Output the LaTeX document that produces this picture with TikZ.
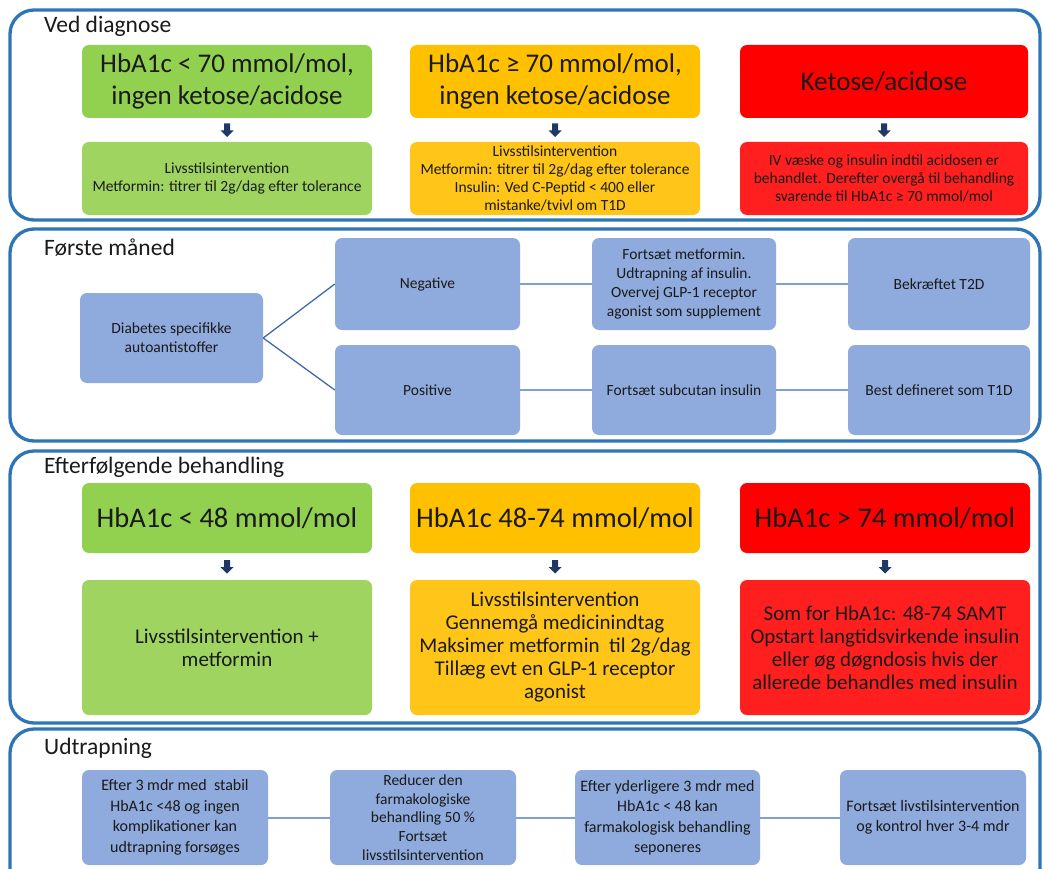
\documentclass[tikz,border=0pt]{standalone}
\usepackage{fontspec}
\setmainfont{Carlito}
\usetikzlibrary{calc}
\definecolor{frameblue}{HTML}{2E75B6}
\definecolor{gtop}{HTML}{92D050}
\definecolor{gbot}{HTML}{9FD461}
\definecolor{otop}{HTML}{FFC000}
\definecolor{obot}{HTML}{FFC519}
\definecolor{rtop}{HTML}{FF0000}
\definecolor{rbot}{HTML}{FF1F1F}
\definecolor{lblue}{HTML}{8FAADC}
\definecolor{lline}{HTML}{7F9FD6}
\definecolor{dline}{HTML}{4268B0}
\definecolor{navy}{HTML}{1F3864}
\definecolor{txt}{HTML}{1A1A1A}
\newcommand\fHead{\fontsize{23.5}{27}\selectfont}
\newcommand\fBigA{\fontsize{27}{32}\selectfont}
\newcommand\fBigB{\fontsize{28.5}{33}\selectfont}
\newcommand\fSmall{\fontsize{15.5}{18}\selectfont}
\newcommand\fSmallB{\fontsize{15.5}{18.7}\selectfont}
\newcommand\fMid{\fontsize{21}{23}\selectfont}
\newcommand\fRowD{\fontsize{16}{20.5}\selectfont}
\tikzset{
  frame/.style={draw=frameblue, line width=3.3pt, rounded corners=24pt},
  bx/.style={rounded corners=7pt, inner sep=2pt, align=center, text=txt},
  blue box/.style={bx, fill=lblue},
  head/.style={anchor=west, inner sep=0pt, text=txt, font=\fHead},
  hline/.style={draw=lline, line width=2pt},
  dlinks/.style={draw=dline, line width=1.3pt},
  downarrow/.style={fill=navy}
}
\newcommand\darrow[1]{\fill[downarrow] ($(#1)+(-3,-6.5)$) -- ++(6,0) -- ++(0,7) -- ++(3.5,0) -- ($(#1)+(0,7)$) -- ($(#1)+(-6.5,0.5)$) -- ++(3.5,0) -- cycle;}
\begin{document}
\begin{tikzpicture}[x=1pt,y=-1pt]
\useasboundingbox (0,0) rectangle (1043,869);
\fill[white] (0,0) rectangle (1043,869);
\begin{scope}
\clip (0,0) rectangle (1043,869);
\draw[frame] (10,10) rectangle (1040,220);
\draw[frame] (10,229) rectangle (1040,441);
\draw[frame] (10,451) rectangle (1040,723);
\draw[frame] (10,729) rectangle (1040,900);
\end{scope}
\node[head] (h1) at (44,26) {Ved diagnose};
\node[head] (h2) at (44,248) {Første måned};
\node[head] (h3) at (44,467) {Efterfølgende behandling};
\node[head] (h4) at (44,748) {Udtrapning};
% Row 1
\node[bx, fill=gtop, minimum width=290pt, minimum height=73pt, font=\fBigA] (g1) at (227,81.5) {HbA1c < 70 mmol/mol,\\ingen ketose/acidose};
\node[bx, fill=otop, minimum width=290pt, minimum height=73pt, font=\fBigA] (o1) at (555,81.5) {HbA1c ≥ 70 mmol/mol,\\ingen ketose/acidose};
\node[bx, fill=rtop, minimum width=288pt, minimum height=73pt, font=\fBigA] (r1) at (884,81.5) {Ketose/acidose};
\node[bx, fill=gbot, minimum width=290pt, minimum height=73pt, font=\fSmall] (g2) at (227,178.5) {Livsstilsintervention\\Metformin: titrer til 2g/dag efter tolerance};
\node[bx, fill=obot, minimum width=290pt, minimum height=73pt, font=\fSmall] (o2) at (555,178.5) {Livsstilsintervention\\Metformin: titrer til 2g/dag efter tolerance\\Insulin: Ved C-Peptid < 400 eller\\mistanke/tvivl om T1D};
\node[bx, fill=rbot, minimum width=288pt, minimum height=73pt, font=\fSmall] (r2) at (884,178.5) {IV væske og insulin indtil acidosen er\\behandlet. Derefter overgå til behandling\\svarende til HbA1c ≥ 70 mmol/mol};
\coordinate (a1) at ($(g1.south)!0.5!(g2.north)$); \darrow{a1}
\coordinate (a2) at ($(o1.south)!0.5!(o2.north)$); \darrow{a2}
\coordinate (a3) at ($(r1.south)!0.5!(r2.north)$); \darrow{a3}
% Row 2
\node[blue box, minimum width=183pt, minimum height=90pt, font=\fSmallB] (d) at (171.5,338) {Diabetes specifikke\\autoantistoffer};
\node[blue box, minimum width=185pt, minimum height=92pt, font=\fSmallB] (neg) at (427.5,284) {Negative};
\node[blue box, minimum width=184pt, minimum height=92pt, font=\fSmallB] (fm) at (684,284) {Fortsæt metformin.\\Udtrapning af insulin.\\Overvej GLP-1 receptor\\agonist som supplement};
\node[blue box, minimum width=182pt, minimum height=92pt, font=\fSmallB] (t2) at (939,284) {Bekræftet T2D};
\node[blue box, minimum width=185pt, minimum height=90pt, font=\fSmallB] (pos) at (427.5,390) {Positive};
\node[blue box, minimum width=184pt, minimum height=90pt, font=\fSmallB] (fs) at (684,390) {Fortsæt subcutan insulin};
\node[blue box, minimum width=182pt, minimum height=90pt, font=\fSmallB] (t1) at (939,390) {Best defineret som T1D};
\draw[dlinks] (d.east) -- (neg.west);
\draw[dlinks] (d.east) -- (pos.west);
\draw[hline] (neg.east) -- (fm.west);
\draw[hline] (fm.east) -- (t2.west);
\draw[hline] (pos.east) -- (fs.west);
\draw[hline] (fs.east) -- (t1.west);
% Row 3
\node[bx, fill=gtop, minimum width=290pt, minimum height=70pt, font=\fBigB] (g3) at (227,518) {HbA1c < 48 mmol/mol};
\node[bx, fill=otop, minimum width=290pt, minimum height=70pt, font=\fBigB] (o3) at (555,518) {HbA1c 48-74 mmol/mol};
\node[bx, fill=rtop, minimum width=290pt, minimum height=70pt, font=\fBigB] (r3) at (885,518) {HbA1c > 74 mmol/mol};
\node[bx, fill=gbot, minimum width=290pt, minimum height=135pt, font=\fMid] (g4) at (227,647.5) {Livsstilsintervention +\\metformin};
\node[bx, fill=obot, minimum width=290pt, minimum height=135pt, font=\fMid] (o4) at (555,647.5) {Livsstilsintervention\\Gennemgå medicinindtag\\Maksimer metformin\ \ til 2g/dag\\Tillæg evt en GLP-1 receptor\\agonist};
\node[bx, fill=rbot, minimum width=290pt, minimum height=135pt, font=\fMid] (r4) at (885,647.5) {Som for HbA1c: 48-74 SAMT\\Opstart langtidsvirkende insulin\\eller øg døgndosis hvis der\\allerede behandles med insulin};
\coordinate (a4) at ($(g3.south)!0.5!(g4.north)$); \darrow{a4}
\coordinate (a5) at ($(o3.south)!0.5!(o4.north)$); \darrow{a5}
\coordinate (a6) at ($(r3.south)!0.5!(r4.north)$); \darrow{a6}
% Row 4
\node[blue box, minimum width=186pt, minimum height=95pt, font=\fRowD] (b1) at (175,817.5) {Efter 3 mdr med\ \ stabil\\HbA1c <48 og ingen\\komplikationer kan\\udtrapning forsøges};
\node[blue box, minimum width=186pt, minimum height=95pt, font=\fontsize{15.5}{18.8}\selectfont] (b2) at (423,817.5) {Reducer den\\farmakologiske\\behandling 50 \%\\Fortsæt\\livsstilsintervention};
\node[blue box, minimum width=185pt, minimum height=95pt, font=\fRowD] (b3) at (667.5,817.5) {Efter yderligere 3 mdr med\\HbA1c < 48 kan\\farmakologisk behandling\\seponeres};
\node[blue box, minimum width=186pt, minimum height=95pt, font=\fRowD] (b4) at (933,817.5) {Fortsæt livstilsintervention\\og kontrol hver 3-4 mdr};
\draw[hline] (b1.east) -- (b2.west);
\draw[hline] (b2.east) -- (b3.west);
\draw[hline] (b3.east) -- (b4.west);
\end{tikzpicture}
\end{document}
